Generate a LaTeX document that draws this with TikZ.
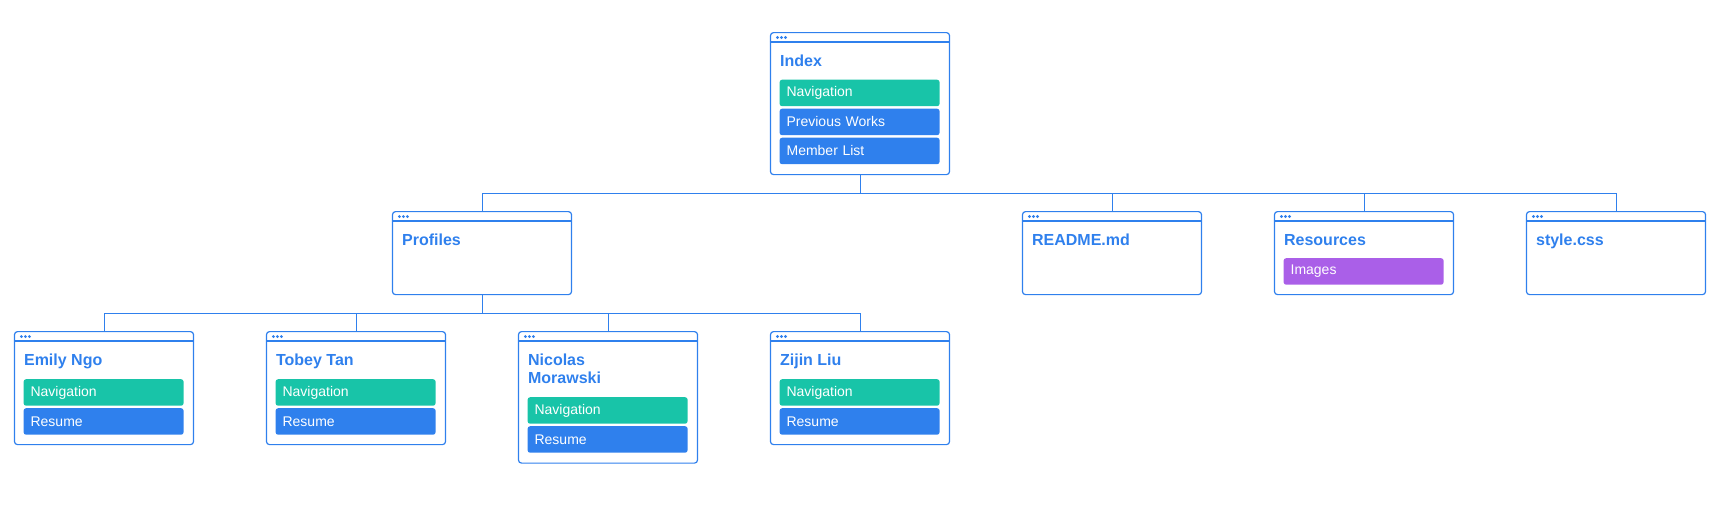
\documentclass[tikz,border=0pt]{standalone}
\usepackage{fontspec}
\setmainfont{Liberation Sans}
\usetikzlibrary{positioning}
\definecolor{pageCol}{RGB}{47,128,237}
\definecolor{navCol}{RGB}{24,196,168}
\definecolor{imgCol}{RGB}{170,95,232}
\tikzset{
  win/.style={draw=pageCol,line width=1.2pt,rounded corners=3pt,minimum width=179pt,
              inner sep=0pt,anchor=north},
  ttl/.style={font=\bfseries\fontsize{16}{18}\selectfont,text=pageCol,align=left,
              inner sep=0pt,anchor=base west},
  item/.style={rounded corners=2.5pt,fill=#1,text=white,font=\fontsize{14}{16}\selectfont,
               text width=146pt,inner xsep=7pt,inner ysep=0pt,minimum height=26.5pt,
               anchor=north west},
  link/.style={draw=pageCol,line width=1pt},
}
\begin{document}
\begin{tikzpicture}[x=1pt,y=-1pt]
  \useasboundingbox (0,0) rectangle (1725,507);
  % page windows (last field: baseline of the last title line)
  \foreach \n/\x/\y/\h/\t/\b in {index/860/32/142/Index/34, profiles/482/211/83/Profiles/34,
      readme/1112/211/83/README.md/34, res/1364/211/83/Resources/34, css/1616/211/83/style.css/34,
      emily/104/331/113/Emily Ngo/34, tobey/356/331/113/Tobey Tan/34,
      nicolas/608/331/131.5/{Nicolas\\Morawski}/52, zijin/860/331/113/Zijin Liu/34}{
    \node[win,minimum height=\h pt] (\n) at (\x,\y) {};
    \draw[pageCol,line width=1.2pt] ([yshift=-10pt]\n.north west) -- ([yshift=-10pt]\n.north east);
    \foreach \d in {7.5,11.5,15.5} \fill[pageCol] ([xshift=\d pt,yshift=-5.5pt]\n.north west) circle (1.6pt);
    \node[ttl] (\n-t) at ([xshift=10pt,yshift=-\b pt]\n.north west) {\t};
  }
  % sections
  \foreach \n/\k/\o/\c/\t in {index/1/47.5/navCol/Navigation, index/2/76.5/pageCol/Previous Works,
      index/3/105.5/pageCol/Member List, res/1/47/imgCol/Images,
      emily/1/48/navCol/Navigation, emily/2/77/pageCol/Resume,
      tobey/1/48/navCol/Navigation, tobey/2/77/pageCol/Resume,
      nicolas/1/66/navCol/Navigation, nicolas/2/95/pageCol/Resume,
      zijin/1/48/navCol/Navigation, zijin/2/77/pageCol/Resume}
    \node[item=\c] (\n-\k) at ([xshift=9.5pt,yshift=-\o pt]\n.north west) {\t};
  % tree
  \foreach \m in {profiles,readme,res,css} \draw[link] (index.south) -- ++(0,18) -| (\m.north);
  \foreach \m in {emily,tobey,nicolas,zijin} \draw[link] (profiles.south) -- ++(0,18) -| (\m.north);
\end{tikzpicture}
\end{document}
